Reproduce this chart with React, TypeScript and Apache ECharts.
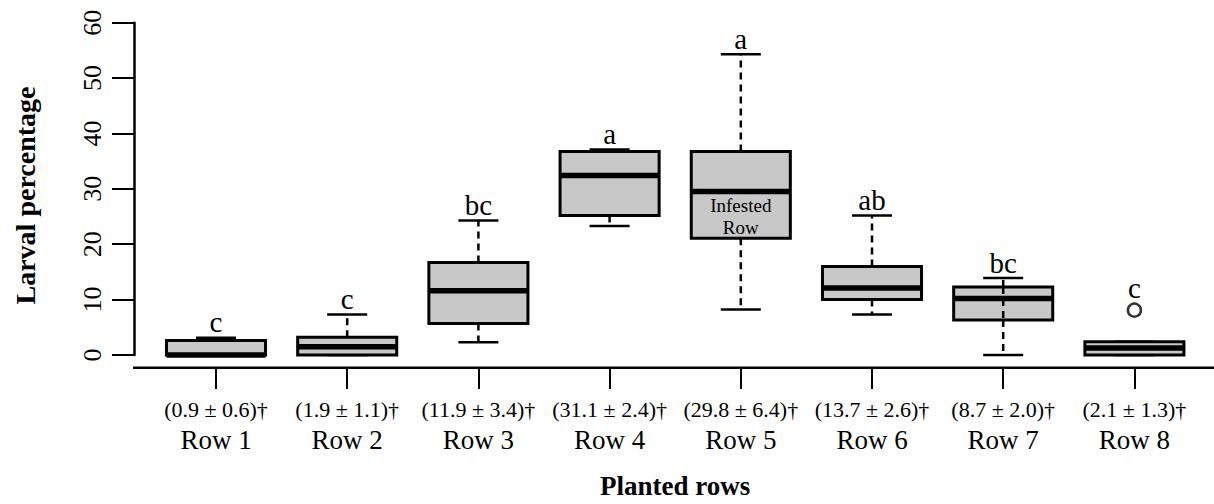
import React, { useEffect, useRef } from "react";
import * as echarts from "echarts";

const categories = ["Row 1", "Row 2", "Row 3", "Row 4", "Row 5", "Row 6", "Row 7", "Row 8"];
const meanLabels = [
  "(0.9 ± 0.6)†",
  "(1.9 ± 1.1)†",
  "(11.9 ± 3.4)†",
  "(31.1 ± 2.4)†",
  "(29.8 ± 6.4)†",
  "(13.7 ± 2.6)†",
  "(8.7 ± 2.0)†",
  "(2.1 ± 1.3)†",
];
const whiskerLow = [0, 0, 2.3, 23.3, 8.2, 7.3, 0, 0];
const q1 = [0, 0, 5.7, 25.2, 21.1, 10.0, 6.3, 0];
const median = [0, 1.5, 11.6, 32.4, 29.5, 12.1, 10.2, 1.25];
const q3 = [2.6, 3.2, 16.7, 36.75, 36.75, 16.0, 12.3, 2.4];
const whiskerHigh = [3.1, 7.3, 24.3, 37.1, 54.3, 25.2, 13.9, 2.4];
const outliers: [number, number][] = [[7, 8.1]];
const groupLetters = ["c", "c", "bc", "a", "a", "ab", "bc", "c"];
const boxNotes = ["", "", "", "", "Infested\nRow", "", "", ""];
const yTicks = { min: 0, max: 60, interval: 10 };

const FONT = "Liberation Serif, Times New Roman, serif";

export default function App() {
  const ref = useRef<HTMLDivElement>(null);
  useEffect(() => {
    if (!ref.current) return;
    const chart = echarts.init(ref.current, null, { renderer: "svg" });
    const boxData = categories.map((_, i) => [i, whiskerLow[i], q1[i], median[i], q3[i], whiskerHigh[i]]);

    const renderItem = (params: any, api: any) => {
      const i = api.value(0);
      const band = api.size([1, 0])[0];
      const cx = api.coord([i, 0])[0];
      const y = (v: number) => api.coord([i, v])[1];
      const boxW = band * 0.755;
      const capW = band * 0.305;
      const yLo = y(api.value(1));
      const yQ1 = y(api.value(2));
      const yMed = y(api.value(3));
      const yQ3 = y(api.value(4));
      const yHi = y(api.value(5));
      const dashStyle = { stroke: "#000", lineWidth: 2.5, lineDash: [7, 5] };
      const solid = { stroke: "#000", lineWidth: 2.5 };
      const children: any[] = [];
      if (yQ3 - yHi > 0.5) children.push({ type: "line", shape: { x1: cx, y1: yQ3, x2: cx, y2: yHi }, style: dashStyle });
      if (yLo - yQ1 > 0.5) children.push({ type: "line", shape: { x1: cx, y1: yQ1, x2: cx, y2: yLo }, style: dashStyle });
      children.push({ type: "line", shape: { x1: cx - capW / 2, y1: yHi, x2: cx + capW / 2, y2: yHi }, style: solid });
      children.push({ type: "line", shape: { x1: cx - capW / 2, y1: yLo, x2: cx + capW / 2, y2: yLo }, style: solid });
      children.push({
        type: "rect",
        shape: { x: cx - boxW / 2, y: yQ3, width: boxW, height: yQ1 - yQ3 },
        style: { fill: "#c8c8c8", stroke: "#000", lineWidth: 3 },
      });
      // Row 7: the dashed whisker line shows through the box in the original
      if (i === 6) children.push({ type: "line", shape: { x1: cx, y1: yQ3, x2: cx, y2: yQ1 }, style: dashStyle });
      children.push({
        type: "line",
        shape: { x1: cx - boxW / 2, y1: yMed, x2: cx + boxW / 2, y2: yMed },
        style: { stroke: "#000", lineWidth: 5.5 },
      });
      let topY = yHi;
      outliers.forEach(([r, v]) => {
        if (r === i) topY = Math.min(topY, y(v) - 6.5);
      });
      children.push({
        type: "text",
        x: cx,
        y: topY - 1,
        style: { text: groupLetters[i], align: "center", verticalAlign: "bottom", fontSize: 29, fontFamily: FONT, fill: "#000" },
      });
      if (boxNotes[i]) {
        children.push({
          type: "text",
          x: cx,
          y: y((median[i] + q1[i]) / 2) + 2,
          style: { text: boxNotes[i], align: "center", verticalAlign: "middle", fontSize: 19, lineHeight: 22, fontFamily: FONT, fill: "#000" },
        });
      }
      return { type: "group", children };
    };

    chart.setOption({
      animation: false,
      grid: { left: 150.4, right: 14, top: 22.7, bottom: 148.3, containLabel: false },
      xAxis: {
        type: "category",
        data: categories,
        boundaryGap: true,
        offset: 12,
        axisLine: { show: false, onZero: false },
        axisTick: { show: true, inside: false, alignWithLabel: true, length: 22, lineStyle: { color: "#000", width: 2 } },
        axisLabel: {
          interval: 0,
          margin: 30,
          formatter: (v: string, idx: number) => `{a|${meanLabels[idx]}}\n{b|${v}}`,
          rich: {
            a: { fontSize: 22, lineHeight: 25, fontFamily: FONT, color: "#000" },
            b: { fontSize: 27, lineHeight: 35, fontFamily: FONT, color: "#000" },
          },
        },
        name: "Planted rows",
        nameLocation: "middle",
        nameGap: 105,
        nameTextStyle: { fontSize: 27, fontWeight: "bold", fontFamily: FONT, color: "#000" },
        splitLine: { show: false },
      },
      yAxis: {
        type: "value",
        min: yTicks.min,
        max: yTicks.max,
        interval: yTicks.interval,
        offset: 16.4,
        axisLine: { show: true, onZero: false, lineStyle: { color: "#000", width: 2.5 } },
        axisTick: { show: true, inside: false, length: 22, lineStyle: { color: "#000", width: 2 } },
        axisLabel: { rotate: 90, margin: 29, fontSize: 26, fontFamily: FONT, color: "#000" },
        splitLine: { show: false },
      },
      graphic: [
        { type: "line", shape: { x1: 133, y1: 367.7, x2: 1214, y2: 367.7 }, style: { stroke: "#000", lineWidth: 2.5 } },
        {
          type: "text",
          x: 25,
          y: 195.5,
          rotation: Math.PI / 2,
          style: {
            text: "Larval percentage",
            align: "center",
            verticalAlign: "middle",
            fontSize: 28,
            fontWeight: "bold",
            fontFamily: FONT,
            fill: "#000",
          },
        },
      ],
      series: [
        { type: "custom", renderItem, data: boxData, encode: { x: 0, y: [1, 2, 3, 4, 5] }, clip: false },
        {
          type: "scatter",
          data: outliers,
          symbol: "circle",
          symbolSize: 13,
          itemStyle: { color: "#fff", borderColor: "#000", borderWidth: 2.5 },
        },
      ],
    });
    return () => chart.dispose();
  }, []);
  return <div ref={ref} style={{ position: "fixed", left: 0, top: 0, width: 1214, height: 504, background: "#fff" }} />;
}
